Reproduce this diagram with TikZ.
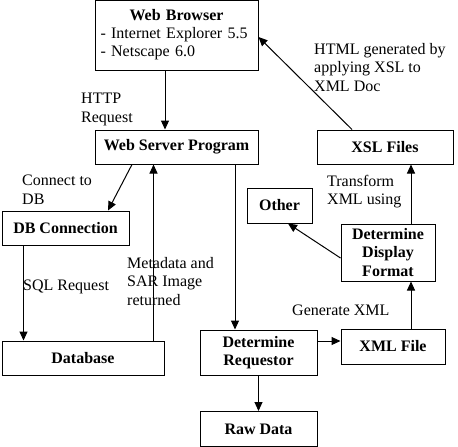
\documentclass[tikz,border=0pt]{standalone}
\usepackage{fontspec}
\setmainfont{Liberation Serif}
\usetikzlibrary{calc, arrows.meta}

\tikzset{
    box/.style = {draw = black, line width = 1pt, inner sep = 0pt, align = center, font = \fontsize{16}{18.5}\selectfont\bfseries},
    note/.style = {align = left, anchor = north west, inner sep = 0pt, font = \fontsize{16}{18.5}\selectfont},
    flow/.style = {black, line width = 1pt, -{Triangle[length = 9pt, width = 8pt]}},
}

\begin{document}
\begin{tikzpicture}[x = 1pt, y = -1pt]
    \useasboundingbox (0, 0) rectangle (458, 447);

    \coordinate (pos_browser) at (176.5, 35);
    \coordinate (pos_server) at (176.5, 147);
    \coordinate (pos_xsl) at (385, 147);
    \coordinate (pos_other) at (279.5, 205.5);
    \coordinate (pos_display) at (388, 252.5);
    \coordinate (pos_dbconn) at (65.5, 228);
    \coordinate (pos_database) at (83, 358);
    \coordinate (pos_requestor) at (258.5, 352.5);
    \coordinate (pos_xmlfile) at (393, 346.5);
    \coordinate (pos_rawdata) at (258.5, 429);

    \node[box, align = left, text width = 152pt, minimum width = 163pt, minimum height = 70pt, font = \fontsize{16}{18}\selectfont] (browser) at (pos_browser) {\makebox[152pt]{\bfseries Web Browser}\\- Internet Explorer 5.5\\- Netscape 6.0};

    \node[box, minimum width = 163pt, minimum height = 34pt] (server) at (pos_server) {Web Server Program};
    \node[box, minimum width = 136pt, minimum height = 34pt] (xsl) at (pos_xsl) {XSL Files};
    \node[box, minimum width = 65pt, minimum height = 35pt] (other) at (pos_other) {Other};
    \node[box, minimum width = 94pt, minimum height = 57pt] (display) at (pos_display) {Determine\\Display\\Format};
    \node[box, minimum width = 127pt, minimum height = 34pt] (dbconn) at (pos_dbconn) {DB Connection};
    \node[box, minimum width = 162pt, minimum height = 34pt] (database) at (pos_database) {Database};
    \node[box, minimum width = 117pt, minimum height = 45pt] (requestor) at (pos_requestor) {Determine\\Requestor};
    \node[box, minimum width = 104pt, minimum height = 35pt] (xmlfile) at (pos_xmlfile) {XML File};
    \node[box, minimum width = 117pt, minimum height = 35pt] (rawdata) at (pos_rawdata) {Raw Data};

    % browser <-> server
    \draw[flow]($(browser.south) + (-11.5, 0)$) -- ($(server.north) + (-11.5, 0)$);
    \node[note] (lbl_http) at (81, 93) {HTTP\\Request};

    % server -> database side
    \draw[flow]($(server.south) + (-44.5, 0)$) -- ($(dbconn.north) + (42.5, 0)$);
    \node[note] (lbl_connect) at (22, 175) {Connect to\\DB};

    \draw[flow]($(dbconn.south west) + (22, 0)$) coordinate (sql_x) -- (sql_x |- database.north);
    \node[note] (lbl_sql) at (23, 280) {SQL Request};

    \draw[flow]($(database.north east) + (-11, 0)$) coordinate (meta_x) -- (meta_x |- server.south);
    \node[note] (lbl_meta) at (127, 257) {Metadata and\\SAR Image\\returned};

    % server -> requestor -> xml
    \draw[flow]($(requestor.north) + (-23.5, 0)$) coordinate (req_x) (req_x |- server.south) -- (req_x);
    \draw[flow](requestor.south) -- (rawdata.north);

    \draw[flow]($(xmlfile.west) + (0, -5.5)$) coordinate (xml_y) (xml_y -| requestor.east) -- (xml_y);
    \node[note] (lbl_gen) at (292, 305) {Generate XML};

    % xml -> display -> xsl / other
    \draw[flow]($(xmlfile.north) + (18, 0)$) coordinate (fmt_x) -- (fmt_x |- display.south);
    \draw[flow](fmt_x |- display.north) -- (fmt_x |- xsl.south);
    \node[note] (lbl_transform) at (327, 175) {Transform\\XML using};

    \draw[flow]($(display.west) + (0, 5.5)$) -- ($(other.south) + (8.5, 0)$);

    % xsl -> browser
    \draw[flow]($(xsl.north) + (-33, 0)$) -- ($(browser.east) + (0, 2)$);
    \node[note] (lbl_html) at (314, 43) {HTML generated by\\applying XSL to\\XML Doc};
\end{tikzpicture}
\end{document}
